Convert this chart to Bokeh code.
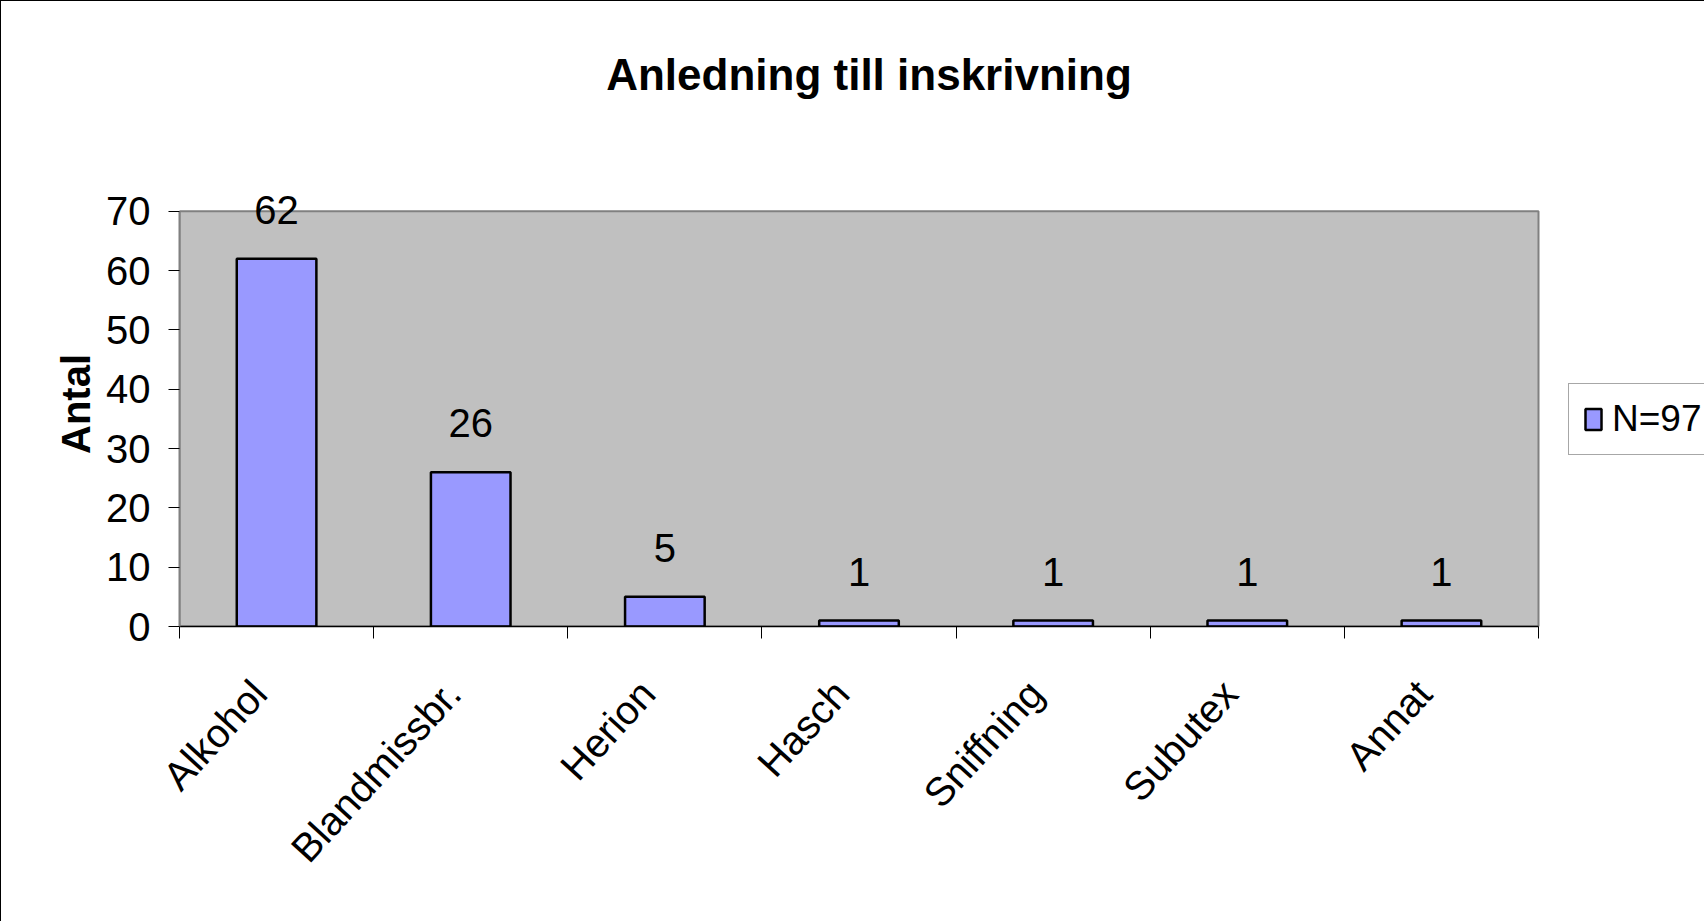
from bokeh.plotting import figure
from bokeh.layouts import column
from bokeh.models import ColumnDataSource, FixedTicker, LabelSet, Legend, LegendItem, Div
from bokeh.core.properties import value
from bokeh.embed import file_html
from bokeh.resources import INLINE

# ---- data ----
categories = ["Alkohol", "Blandmissbr.", "Herion", "Hasch", "Sniffning", "Subutex", "Annat"]
counts = [62, 26, 5, 1, 1, 1, 1]
y_ticks = [0, 10, 20, 30, 40, 50, 60, 70]
y_max = 70
series_name = "N=97"
title_text = "Anledning till inskrivning"
y_label = "Antal"

FONT = "Liberation Sans"

n = len(categories)
centers = [i + 0.5 for i in range(n)]
label_pos = [i + 0.41 for i in range(n)]
bounds = list(range(n + 1))

src = ColumnDataSource(dict(x=centers, top=counts, text=[str(c) for c in counts]))

# title block above the chart
title_div = Div(
    text=('<div style="position:absolute; left:463px; width:800px; top:47px; '
          'text-align:center; font-family:\'Liberation Sans\'; font-weight:bold; '
          'font-size:44px; line-height:44px; color:black; white-space:nowrap;">'
          + title_text + '</div>'),
    width=1703, height=121)

# extra room right of the category axis, used by the legend
right_pad = 0.855

p = figure(width=1703, height=797, x_range=(0, n + right_pad), y_range=(0, 75),
           title=None, output_backend="svg", toolbar_location=None,
           min_border_left=178, min_border_right=0, min_border_top=49, min_border_bottom=303,
           background_fill_color="white", border_fill_color="white",
           outline_line_color=None)

p.xgrid.visible = False
p.ygrid.visible = False

# plot area (grey) spanning the axis ranges
p.quad(left=[0], right=[n], bottom=[0], top=[y_max],
       fill_color="#C0C0C0", line_color="#808080", line_width=2)

bars = p.vbar(x="x", top="top", width=0.41, bottom=0, source=src,
              fill_color="#9999FF", line_color="black", line_width=2.5)

labels = LabelSet(x="x", y="top", text="text", source=src, y_offset=49,
                  text_align="center", text_baseline="middle",
                  text_font=value(FONT), text_font_size=value("40px"), text_color="black")
p.add_layout(labels)

# x axis
xa = p.xaxis[0]
xa.bounds = (0, n)
xa.ticker = FixedTicker(ticks=label_pos, minor_ticks=bounds)
xa.major_label_overrides = {c: name for c, name in zip(label_pos, categories)}
xa.major_tick_out = 0
xa.major_tick_in = 0
xa.minor_tick_out = 12
xa.minor_tick_in = 0
xa.minor_tick_line_color = "black"
xa.axis_line_color = "black"
xa.axis_line_width = 1.5
xa.major_label_orientation = 0.83
xa.major_label_standoff = 48
xa.major_label_text_font = FONT
xa.major_label_text_font_size = "40px"
xa.major_label_text_color = "black"

# y axis
ya = p.yaxis[0]
ya.ticker = FixedTicker(ticks=y_ticks)
ya.bounds = (0, y_max)
ya.minor_tick_out = 0
ya.minor_tick_in = 0
ya.major_tick_out = 11
ya.major_tick_in = 0
ya.major_tick_line_color = "black"
ya.axis_line_color = "#808080"
ya.axis_line_width = 2
ya.major_label_standoff = 18
ya.major_label_text_font = FONT
ya.major_label_text_font_size = "40px"
ya.major_label_text_color = "black"
ya.axis_label = y_label
ya.axis_label_text_font = FONT
ya.axis_label_text_font_size = "40px"
ya.axis_label_text_font_style = "bold"
ya.axis_label_text_color = "black"
ya.axis_label_standoff = 5

legend = Legend(items=[LegendItem(label=series_name, renderers=[bars])],
                location=(1389, 171), orientation="vertical",
                background_fill_color="white", background_fill_alpha=1,
                border_line_color="#505050", border_line_width=1.5,
                label_text_font=FONT, label_text_font_size="37px",
                label_text_color="black",
                glyph_width=20, glyph_height=26, label_standoff=9,
                padding=14, spacing=0, margin=0)
p.add_layout(legend, "center")

layout = column(title_div, p, spacing=0)
layout.styles = {"border-left": "1px solid black", "border-top": "1px solid black"}

open("out.html", "w").write(file_html(layout, INLINE))
